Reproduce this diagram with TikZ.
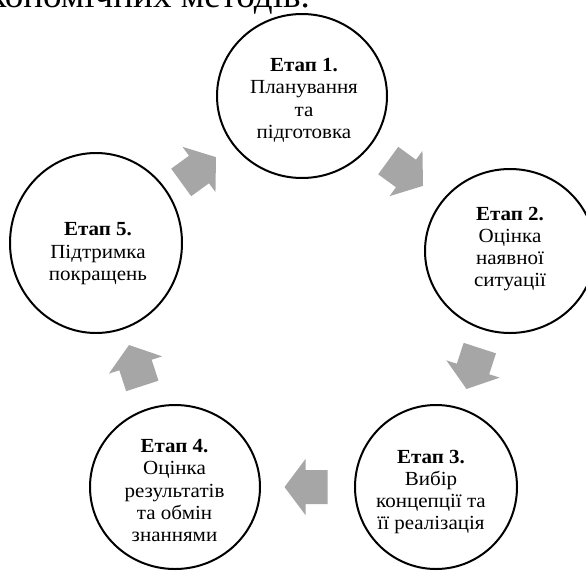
\documentclass[tikz,border=0pt]{standalone}
\usepackage{fontspec}
\setmainfont{Liberation Serif}[FakeStretch=1.05]
\usetikzlibrary{calc,shapes.geometric}
\definecolor{arrowgray}{RGB}{166,166,166}
\tikzset{
  stage/.style={ellipse, draw=black, line width=2pt, minimum width=170pt, minimum height=164pt, inner sep=0pt},
  stagetext/.style={align=center, inner sep=0pt, font=\fontsize{20}{22.2}\selectfont},
  cyc arrow/.pic={\fill[arrowgray] (-22,-17) -- (0,-17) -- (0,-28) -- (21,0) -- (0,28) -- (0,17) -- (-22,17) -- cycle;}
}
\begin{document}
\begin{tikzpicture}[x=1pt,y=-1pt]
\useasboundingbox (0,0) rectangle (586,571);
\clip (0,0) rectangle (586,571);
\fill[white] (0,0) rectangle (586,571);
\node[anchor=base east, font=\fontsize{35.3}{36}\selectfont, inner sep=0pt] (title) at (310,7.5) {економічних методів.};
% circles
\node[stage] (s1) at (302,96) {};
\node[stage] (s2) at (510,251) {};
\node[stage, minimum width=162pt] (s3) at (436,487) {};
\node[stage] (s4) at (175,487) {};
\node[stage, minimum width=172pt, minimum height=180pt] (s5) at (96,243) {};
% texts
\node[stagetext] (t1) at (304,100.4) {\textbf{Етап 1.}\\Планування\\та\\підготовка};
\node[stagetext] (t2) at (510,249) {\textbf{Етап 2.}\\Оцінка\\наявної\\ситуації};
\node[stagetext] (t3) at (431,492) {\textbf{Етап 3.}\\Вибір\\концепції та\\її реалізація};
\node[stagetext] (t4) at (174.5,490.7) {\textbf{Етап 4.}\\Оцінка\\результатів\\та обмін\\знаннями};
\node[stagetext] (t5) at (98,253.6) {\textbf{Етап 5.}\\Підтримка\\покращень};
% arrows
\pic[rotate=36] at ($(s5)!0.5!(s1)$) {cyc arrow};
\pic[rotate=-36] at ($(s1)!0.5!(s2)$) {cyc arrow};
\pic[rotate=-108] at ($(s2)!0.5!(s3)$) {cyc arrow};
\pic[rotate=180] at ($(s3)!0.5!(s4)$) {cyc arrow};
\pic[rotate=108] at ($(s4)!0.5!(s5)$) {cyc arrow};
\end{tikzpicture}
\end{document}
